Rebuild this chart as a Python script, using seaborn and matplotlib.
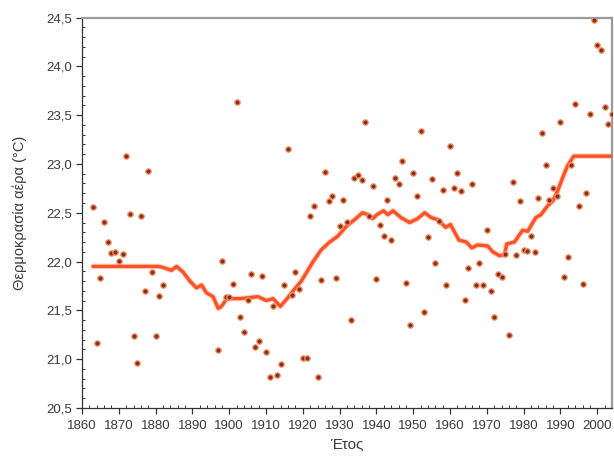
import matplotlib
matplotlib.use("Agg")
import matplotlib.pyplot as plt
from matplotlib.ticker import MultipleLocator, FuncFormatter
import seaborn as sns
import pandas as pd

# Annual mean air temperature (°C)
years = [1863, 1864, 1865, 1866, 1867, 1868, 1869, 1870, 1871, 1872,
         1873, 1874, 1875, 1876, 1877, 1878, 1879, 1880, 1881, 1882,
         1897, 1898, 1899, 1900, 1901, 1902, 1903, 1904, 1905, 1906,
         1907, 1908, 1909, 1910, 1911, 1912, 1913, 1914, 1915, 1916,
         1917, 1918, 1919, 1920, 1921, 1922, 1923, 1924, 1925, 1926,
         1927, 1928, 1929, 1930, 1931, 1932, 1933, 1934, 1935, 1936,
         1937, 1938, 1939, 1940, 1941, 1942, 1943, 1944, 1945, 1946,
         1947, 1948, 1949, 1950, 1951, 1952, 1953, 1954, 1955, 1956,
         1957, 1958, 1959, 1960, 1961, 1962, 1963, 1964, 1965, 1966,
         1967, 1968, 1969, 1970, 1971, 1972, 1973, 1974, 1975, 1976,
         1977, 1978, 1979, 1980, 1981, 1982, 1983, 1984, 1985, 1986,
         1987, 1988, 1989, 1990, 1991, 1992, 1993, 1994, 1995, 1996,
         1997, 1998, 1999, 2000, 2001, 2002, 2003, 2004]
temps = [22.56, 21.17, 21.83, 22.41, 22.20, 22.09, 22.10, 22.01, 22.08, 23.08,
         22.49, 21.24, 20.96, 22.47, 21.70, 22.93, 21.89, 21.24, 21.65, 21.76,
         21.09, 22.01, 21.64, 21.64, 21.77, 23.64, 21.43, 21.28, 21.61, 21.87,
         21.12, 21.19, 21.85, 21.07, 20.82, 21.54, 20.84, 20.95, 21.76, 23.15,
         21.66, 21.89, 21.72, 21.01, 21.01, 22.47, 22.57, 20.82, 21.81, 22.92,
         22.62, 22.67, 21.83, 22.36, 22.63, 22.41, 21.40, 22.86, 22.89, 22.84,
         23.43, 22.47, 22.77, 21.82, 22.37, 22.26, 22.63, 22.22, 22.86, 22.79,
         23.03, 21.78, 21.35, 22.91, 22.67, 23.34, 21.48, 22.25, 22.85, 21.98,
         22.42, 22.73, 21.76, 23.18, 22.75, 22.91, 22.72, 21.61, 21.93, 22.79,
         21.76, 21.99, 21.76, 22.32, 21.70, 21.43, 21.87, 21.84, 22.08, 21.25,
         22.82, 22.07, 22.62, 22.12, 22.11, 22.26, 22.10, 22.65, 23.32, 22.99,
         22.63, 22.75, 22.67, 23.43, 21.84, 22.05, 22.99, 23.61, 22.57, 21.77,
         22.70, 23.51, 24.48, 24.22, 24.17, 23.58, 23.41, 23.51]

# Smoothed trend curve
trend_years = [1863, 1878.4, 1880.7, 1882.0, 1884.3, 1885.7, 1887.5, 1889.3,
               1891.1, 1892.5, 1893.8, 1895.6, 1897.0, 1897.9, 1899.3, 1903.0,
               1907.8, 1910.1, 1911.9, 1913.9, 1915.5, 1917.8, 1919.6, 1922.8,
               1925.0, 1927.3, 1929.5, 1931.8, 1934.1, 1936.2, 1937.7, 1939.0,
               1940.1, 1941.9, 1943.1, 1944.5, 1946.7, 1949.0, 1951.2, 1953.1,
               1954.9, 1956.7, 1958.8, 1960.1, 1962.4, 1964.4, 1965.9, 1967.5,
               1970.2, 1971.6, 1973.4, 1974.8, 1975.4, 1977.5, 1979.7, 1981.1,
               1983.3, 1984.7, 1986.5, 1987.9, 1989.2, 1990.6, 1991.9, 1993.6,
               2004.0]
trend_temps = [21.95, 21.95, 21.95, 21.94, 21.91, 21.95, 21.89, 21.80,
               21.73, 21.76, 21.68, 21.64, 21.52, 21.54, 21.62, 21.62,
               21.64, 21.60, 21.62, 21.54, 21.61, 21.72, 21.80, 22.00,
               22.12, 22.20, 22.26, 22.36, 22.43, 22.50, 22.48, 22.44,
               22.48, 22.52, 22.48, 22.52, 22.45, 22.40, 22.44, 22.50,
               22.45, 22.43, 22.35, 22.38, 22.22, 22.20, 22.14, 22.17,
               22.16, 22.10, 22.06, 22.07, 22.18, 22.20, 22.32, 22.31,
               22.45, 22.48, 22.57, 22.62, 22.72, 22.86, 22.98, 23.08,
               23.08]

x_ticks = list(range(1860, 2001, 10))
y_ticks = [20.5, 21.0, 21.5, 22.0, 22.5, 23.0, 23.5, 24.0, 24.5]

sns.set_theme(style="white")
plt.rcParams["font.family"] = ["Liberation Sans", "DejaVu Sans"]

obs = pd.DataFrame({"year": years, "temp": temps})
trend = pd.DataFrame({"year": trend_years, "temp": trend_temps})

fig = plt.figure(figsize=(6.14, 4.63), dpi=100)
ax = fig.add_axes([0.1336, 0.119, 0.8631, 0.843])

# soft halo under the trend curve, then the curve itself
sns.lineplot(data=trend, x="year", y="temp", ax=ax, color="#ff7a50",
             linewidth=4.0, alpha=0.35, zorder=2, estimator=None, sort=False)
sns.lineplot(data=trend, x="year", y="temp", ax=ax, color="#ff5226",
             linewidth=2.4, zorder=3, estimator=None, sort=False)

sns.scatterplot(data=obs, x="year", y="temp", ax=ax, s=15,
                color="#8a2e14", edgecolor="#f3936c", linewidth=0.9,
                zorder=4)

ax.set_xlim(1860, 2004)
ax.set_ylim(20.5, 24.5)
ax.set_xticks(x_ticks)
ax.set_yticks(y_ticks)
ax.xaxis.set_minor_locator(MultipleLocator(2))
ax.yaxis.set_minor_locator(MultipleLocator(0.1))
ax.yaxis.set_major_formatter(FuncFormatter(lambda v, p: f"{v:.1f}".replace(".", ",")))

ax.tick_params(axis="both", which="both", bottom=True, left=True,
               top=False, right=False)
ax.tick_params(axis="both", which="major", direction="out", length=4,
               width=0.9, color="#333333", labelsize=9.5,
               labelcolor="#3a3a3a")
ax.tick_params(axis="both", which="minor", direction="in", length=2.5,
               width=0.7, color="#333333")
ax.tick_params(axis="x", which="major", pad=5)
ax.tick_params(axis="y", which="major", pad=3)

for side in ("left", "bottom"):
    ax.spines[side].set_color("#333333")
    ax.spines[side].set_linewidth(0.9)
for side in ("top", "right"):
    ax.spines[side].set_color("#9a9a9a")
    ax.spines[side].set_linewidth(1.6)

ax.set_xlabel("Έτος", fontsize=11, color="#3a3a4a", labelpad=4)
ax.set_ylabel("Θερμοκρασία αέρα (°C)", fontsize=10.5, color="#3a3a3a",
              labelpad=14)

fig.savefig("out.png", dpi=100)
